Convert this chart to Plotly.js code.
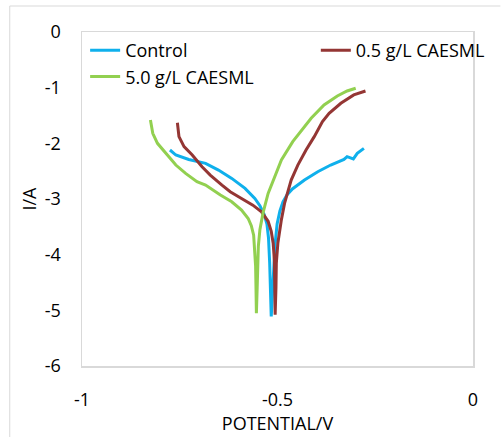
<!DOCTYPE html>
<html>
<head>
<meta charset="utf-8">
<script src="https://cdn.plot.ly/plotly-3.0.1.min.js"></script>
<style>html,body{margin:0;padding:0;background:#fff;}#chart{width:502px;height:437px;}</style>
</head>
<body>
<div id="chart"></div>
<script>
// Control
var controlX = [-0.775,-0.760,-0.727,-0.684,-0.651,-0.617,-0.583,-0.558,-0.545,-0.534,-0.527,-0.523,-0.520,-0.518,-0.516,-0.513,-0.510,-0.506,-0.501,-0.494,-0.486,-0.476,-0.462,-0.447,-0.431,-0.397,-0.364,-0.330,-0.322,-0.306,-0.296,-0.279];
var controlY = [-2.12,-2.21,-2.29,-2.36,-2.48,-2.63,-2.81,-2.99,-3.12,-3.28,-3.45,-3.70,-4.15,-4.60,-5.11,-4.70,-4.20,-3.80,-3.45,-3.22,-3.05,-2.93,-2.82,-2.74,-2.66,-2.51,-2.39,-2.29,-2.24,-2.28,-2.18,-2.09];
// 0.5 g/L CAESML
var lowX = [-0.756,-0.752,-0.739,-0.718,-0.693,-0.672,-0.642,-0.621,-0.592,-0.563,-0.541,-0.524,-0.516,-0.511,-0.508,-0.507,-0.506,-0.504,-0.503,-0.499,-0.494,-0.490,-0.482,-0.473,-0.465,-0.448,-0.427,-0.406,-0.385,-0.368,-0.338,-0.305,-0.275];
var lowY = [-1.63,-1.88,-2.06,-2.21,-2.42,-2.57,-2.75,-2.87,-2.99,-3.11,-3.23,-3.40,-3.58,-3.80,-4.10,-4.60,-5.08,-4.60,-4.15,-3.79,-3.55,-3.37,-3.08,-2.84,-2.66,-2.39,-2.12,-1.88,-1.61,-1.46,-1.28,-1.13,-1.06];
// 5.0 g/L CAESML
var highX = [-0.825,-0.819,-0.807,-0.786,-0.760,-0.735,-0.706,-0.684,-0.646,-0.617,-0.592,-0.575,-0.567,-0.561,-0.558,-0.556,-0.555,-0.554,-0.552,-0.551,-0.549,-0.545,-0.537,-0.524,-0.511,-0.490,-0.461,-0.435,-0.414,-0.381,-0.347,-0.322,-0.300];
var highY = [-1.58,-1.82,-2.00,-2.18,-2.39,-2.54,-2.69,-2.75,-2.93,-3.05,-3.20,-3.35,-3.48,-3.65,-3.90,-4.20,-4.60,-5.05,-4.60,-4.20,-3.85,-3.55,-3.25,-2.90,-2.66,-2.30,-1.97,-1.73,-1.55,-1.31,-1.15,-1.06,-1.01];

var seriesNames = ['Control','0.5 g/L CAESML','5.0 g/L CAESML'];
var xTicks = [-1,-0.5,0];
var xTickLabels = ['-1','-0.5','0'];
var yTicks = [0,-1,-2,-3,-4,-5,-6];
var yTickLabels = ['0','-1','-2','-3','-4','-5','-6'];

var FONT = 'Open Sans, sans-serif';
var FS = 18;
var traces = [
  {x: controlX, y: controlY, name: seriesNames[0], mode:'lines', line:{color:'#0fb0ec', width:3}, legend:'legend', legendgroup:'a'},
  {x: lowX, y: lowY, name: seriesNames[1], mode:'lines', line:{color:'#943634', width:3}, legend:'legend2'},
  {x: highX, y: highY, name: seriesNames[2], mode:'lines', line:{color:'#92d050', width:3}, legend:'legend', legendgroup:'b'}
];

var axisCommon = {
  showgrid:false, zeroline:false, showline:true, mirror:true,
  linecolor:'#d9d9d9', linewidth:1.5, ticks:'',
  tickfont:{family:FONT, size:FS, color:'#000'}
};

var layout = {
  width:502, height:437,
  margin:{l:82, r:25, t:32, b:71, pad:0},
  paper_bgcolor:'#fff', plot_bgcolor:'#fff',
  font:{family:FONT, size:FS, color:'#000'},
  xaxis: Object.assign({}, axisCommon, {
    range:[-1,0], tickvals:xTicks, ticktext:xTickLabels, ticklabelstandoff:17,
    title:{text:'POTENTIAL/V', font:{family:FONT, size:FS, color:'#000'}, standoff:4}
  }),
  yaxis: Object.assign({}, axisCommon, {
    range:[-6,0], tickvals:yTicks, ticktext:yTickLabels, ticklabelstandoff:16,
    title:{text:'I/A', font:{family:FONT, size:FS, color:'#000'}, standoff:3}
  }),
  showlegend:true,
  legend:{x:0.008, y:1.0, xanchor:'left', yanchor:'top', bgcolor:'rgba(0,0,0,0)', traceorder:'grouped', tracegroupgap:0, font:{family:FONT, size:FS, color:'#000'}},
  legend2:{x:0.598, y:1.0, xanchor:'left', yanchor:'top', bgcolor:'rgba(0,0,0,0)', font:{family:FONT, size:FS, color:'#000'}},
  shapes:[
    {type:'line', xref:'paper', yref:'paper', x0:-0.1848, x1:1.07, y0:1.0778, y1:1.0778, line:{color:'#d9d9d9', width:1}},
    {type:'line', xref:'paper', yref:'paper', x0:-0.1848, x1:-0.1848, y0:1.0778, y1:-0.22, line:{color:'#d9d9d9', width:1}}
  ]
};

Plotly.newPlot('chart', traces, layout, {displayModeBar:false, staticPlot:true});
</script>
</body>
</html>
